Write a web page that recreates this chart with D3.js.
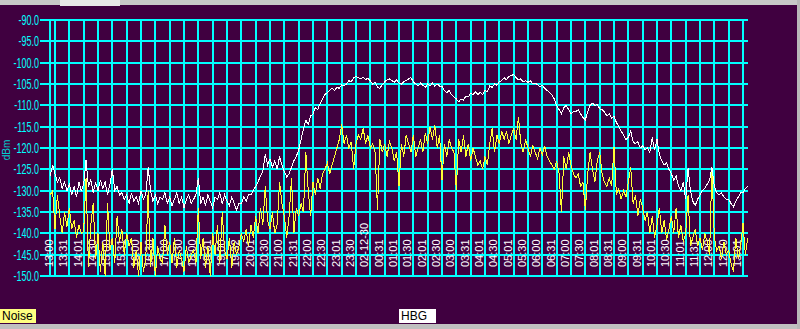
<!DOCTYPE html>
<html>
<head>
<meta charset="utf-8">
<script src="https://cdn.jsdelivr.net/npm/d3@7"></script>
<style>
    html, body { margin: 0; padding: 0; background: #400040; overflow: hidden; }
    svg { display: block; }
</style>
</head>
<body>
<svg id="chart" width="800" height="329"></svg>
<script>
// Tick labels along the time axis (one every 30 min, starting 13:00)
const tickLabels = ["13:00","13:31","14:01","14:30","15:00","15:31","16:00","16:30","17:00","17:30",
    "18:00","18:31","19:00","19:32","20:01","20:30","21:00","21:31","22:00","22:30","23:01","23:30",
    "02-12-30","00:31","01:01","01:30","02:01","02:30","03:00","03:31","04:01","04:30","05:01","05:30",
    "06:00","06:31","07:00","07:30","08:01","08:31","09:00","09:31","10:01","10:30","11:01","11:31",
    "12:00","12:30","13:01"];

const yTicks = [-90, -95, -100, -105, -110, -115, -120, -125, -130, -135, -140, -145, -150];

// Samples: one every 5 minutes, first one at 12:50 (minute -10 relative to 13:00)
const sampleStart = -10;
const sampleStep = 5;

// HBG signal level, dBm
const hbgValues = [
    -126.5, -124, -126, -128, -127, -129.5, -128, -130, -128.5, -131,
    -129, -131.5, -128, -130, -128.5, -122.8, -129, -127.5, -130.5, -128,
    -130, -127.5, -129.5, -128, -131, -128.5, -125, -130, -129, -131,
    -130.5, -132, -131, -133, -130.5, -132.5, -131.5, -133, -130, -132,
    -131, -124.5, -130, -132.5, -131, -133, -131.5, -132, -130.5, -133,
    -131.5, -133.5, -132, -130.5, -133, -131.5, -134, -132, -131, -133,
    -132, -131, -127, -133, -131.5, -133.5, -131, -132.5, -134, -131.5,
    -132, -130.5, -133, -131, -132.5, -133.5, -131.5, -133, -134.5, -133,
    -133, -131.5, -132.5, -131, -131, -130, -129, -128, -126.5, -125.5,
    -121.5, -124, -122.5, -124.5, -123, -125, -122, -124, -125.5, -126.8,
    -126, -124.5, -123, -122, -120.5, -118, -115.5, -113.5, -114.5, -112.5,
    -112, -110.5, -111, -109.5, -108.5, -107.5, -107, -106.5, -106, -106.5,
    -105.8, -106, -105.2, -105.5, -105, -104.2, -104.5, -103.5, -103.2, -103.5,
    -103.8, -103.4, -104, -103.6, -104.3, -105, -104.5, -105.8, -106, -105.2,
    -104.5, -104, -103.8, -104.2, -104.6, -104, -104.8, -105, -104.5, -104.2,
    -103.8, -103.5, -104.5, -105, -105.5, -104.8, -105.3, -105.8, -105, -105.5,
    -104.8, -105.5, -105, -105.5, -105.5, -106.5, -107, -106.5, -107.5, -108,
    -108.5, -109.2, -108.5, -108.8, -107.8, -108, -107.2, -107.5, -106.8, -107.5,
    -107, -107.5, -106.5, -106.8, -105.5, -105.8, -105, -105.3, -104.5, -104.2,
    -103.5, -104, -103.2, -103, -102.8, -103.5, -104, -103.8, -104.5, -104.2,
    -104.6, -104.2, -105, -104.8, -105.2, -105.6, -105.3, -106, -106.5, -107,
    -107.5, -108.5, -110, -111, -112, -110.5, -110, -111, -112, -111.5,
    -111.5, -111, -112, -112.8, -113.4, -111.5, -110, -109.5, -110, -109.8,
    -110.8, -111, -111.5, -112.5, -112, -113, -112.5, -114, -115, -116,
    -117, -118, -117.5, -116, -118.5, -119, -118.5, -120, -119.5, -120.5,
    -120, -121, -117.5, -120.5, -118, -121.5, -123, -124, -123.5, -125,
    -126, -127.5, -126.5, -129, -130, -128, -132, -124.7, -130, -132.5,
    -133.5, -132, -131, -130, -129.5, -128.5, -127.5, -124.5, -129, -130.5,
    -131, -130.5, -131.5, -132, -132, -133, -133.8, -132.5, -131.5, -130.5,
    -130.5, -129.5, -129
];

// Noise level, dBm
const noiseValues = [
    -131, -130, -139, -131, -136, -140, -135, -138.5, -134, -139,
    -137, -141, -138, -140, -139.5, -127, -148, -138, -133, -146,
    -140, -149, -142, -150, -133, -144, -141, -147, -136, -142,
    -139, -145, -140, -143, -141, -148, -144, -150, -142, -149,
    -146, -130, -148, -141, -150, -143, -146, -147, -138, -145,
    -142, -147, -141, -148, -144, -146, -149, -143, -147, -145,
    -144, -147, -134, -146, -141, -148, -143, -150, -140, -145,
    -138, -147, -135, -144, -146, -141, -148, -142, -145, -143,
    -140, -142, -139, -143, -138, -141, -136, -140, -134, -138,
    -129, -137, -139, -135, -140, -138, -128, -133, -136, -141,
    -136, -127, -140, -134, -136, -133, -135, -121, -130, -136,
    -128, -131, -127, -129.5, -126, -125, -123.5, -126, -124, -122,
    -120, -118, -114.5, -119, -117, -120, -118.5, -125, -119, -117,
    -118, -115.3, -119, -117, -120, -119, -121, -134.5, -118, -121,
    -119, -122, -118.5, -120, -123, -121, -129, -119, -122, -117,
    -119, -121, -117, -122, -120, -118, -121, -116.5, -119, -115,
    -118, -114.6, -120, -117, -127.5, -119, -122, -118, -120, -121,
    -129.8, -118, -121, -117, -122, -119, -123, -120, -122, -124,
    -123, -125, -122, -124, -119, -115.3, -121, -117, -119, -116,
    -118, -116, -119, -117, -115.5, -118, -112.7, -119, -121, -118,
    -120, -122, -119.5, -121, -122.5, -120, -121.5, -119.5, -122, -123,
    -124, -125, -123, -126, -135, -122, -125, -121, -124, -126,
    -127, -126, -129, -128, -134.5, -126, -121, -125, -128, -123,
    -121, -126, -128, -129, -127, -129, -119.8, -131, -129.5, -132,
    -130, -131.5, -128, -124.5, -133, -131, -136, -132, -134, -137,
    -135, -140, -136, -141, -138, -134, -140, -137, -141.5, -139,
    -136, -140, -134, -141, -138, -142, -140, -131, -143, -141,
    -139, -143, -141, -144, -140, -142, -145, -124.5, -141, -144,
    -143, -146, -142, -145, -144, -147, -149, -141, -146, -143,
    -137.6, -145, -141
];

const seriesNames = ['Noise', 'HBG'];
const seriesColors = { 'Noise': '#ffff33', 'HBG': '#ffffff' };

function drawChart() {
    const svg = d3.select('#chart');
    const width = 800, height = 329;
    const plot = { left: 50, right: 748, top: 20, bottom: 276 };

    // background
    svg.append('rect').attr('width', width).attr('height', height).attr('fill', '#400040');

    // window chrome bits (top and bottom bars, right edge)
    svg.append('rect').attr('x', 0).attr('y', 0).attr('width', width).attr('height', 5).attr('fill', '#c8c8c8');
    svg.append('rect').attr('x', 60).attr('y', 0).attr('width', 60).attr('height', 6).attr('fill', '#e8e8e8');
    svg.append('rect').attr('x', 0).attr('y', 324).attr('width', width).attr('height', 5).attr('fill', '#c0c0c0');
    svg.append('rect').attr('x', 797).attr('y', 0).attr('width', 3).attr('height', height).attr('fill', '#b8b8b8');

    // Scales: x in minutes after 13:00, tick line k sits at 30*k minutes
    const x = d3.scaleLinear()
        .domain([0, 1440])
        .range([55, 743]);

    const y = d3.scaleLinear()
        .domain([-150, -90])
        .range([plot.bottom, plot.top]);

    const grid = svg.append('g')
        .attr('stroke', '#00ffff')
        .attr('stroke-width', 2)
        .attr('shape-rendering', 'crispEdges');

    // horizontal grid lines (they stick out to the left as ticks)
    grid.selectAll('.hline')
        .data(yTicks)
        .enter()
        .append('line')
        .attr('x1', 40)
        .attr('x2', plot.right)
        .attr('y1', d => Math.round(y(d)))
        .attr('y2', d => Math.round(y(d)));

    // left border and the vertical time lines
    grid.append('line')
        .attr('x1', plot.left).attr('x2', plot.left)
        .attr('y1', plot.top).attr('y2', plot.bottom);

    grid.selectAll('.vline')
        .data(tickLabels)
        .enter()
        .append('line')
        .attr('x1', (d, i) => Math.round(x(i * 30)))
        .attr('x2', (d, i) => Math.round(x(i * 30)))
        .attr('y1', plot.top)
        .attr('y2', plot.bottom);

    // y axis labels, narrow font
    svg.selectAll('.ylabel')
        .data(yTicks)
        .enter()
        .append('text')
        .attr('transform', d => `translate(39,${y(d) + 5}) scale(0.6,1)`)
        .attr('text-anchor', 'end')
        .style('font-family', 'Liberation Sans, Arial, sans-serif')
        .style('font-size', '15px')
        .style('fill', '#00ffff')
        .text(d => d.toFixed(1));

    svg.append('text')
        .attr('transform', 'translate(10,150) rotate(-90)')
        .attr('text-anchor', 'middle')
        .style('font-family', 'Liberation Sans, Arial, sans-serif')
        .style('font-size', '10px')
        .style('fill', '#00d0d0')
        .text('dBm');

    // x axis labels, rotated, just left of each line
    svg.selectAll('.xlabel')
        .data(tickLabels)
        .enter()
        .append('text')
        .attr('transform', (d, i) => `translate(${Math.round(x(i * 30)) - 2},267) rotate(-90)`)
        .attr('text-anchor', 'start')
        .style('font-family', 'Liberation Sans, Arial, sans-serif')
        .style('font-size', '11px')
        .style('fill', '#ffffff')
        .text(d => d);

    // series lines
    svg.append('clipPath').attr('id', 'plotclip')
        .append('rect')
        .attr('x', plot.left).attr('y', plot.top)
        .attr('width', plot.right - plot.left).attr('height', plot.bottom - plot.top + 1);

    const line = d3.line()
        .x((d, i) => x(sampleStart + i * sampleStep))
        .y(d => y(d));

    const seriesData = { 'Noise': noiseValues, 'HBG': hbgValues };
    seriesNames.forEach(name => {
        svg.append('path')
            .datum(seriesData[name])
            .attr('clip-path', 'url(#plotclip)')
            .attr('fill', 'none')
            .attr('stroke', seriesColors[name])
            .attr('stroke-width', 1)
            .attr('shape-rendering', 'crispEdges')
            .attr('d', line);
    });

    // legend boxes along the bottom
    const legend = [
        { name: 'Noise', x: 0, w: 36, fill: '#ffff80' },
        { name: 'HBG', x: 399, w: 37, fill: '#ffffff' }
    ];
    const lg = svg.selectAll('.legend')
        .data(legend)
        .enter()
        .append('g');
    lg.append('rect')
        .attr('x', d => d.x).attr('y', 309)
        .attr('width', d => d.w).attr('height', 14)
        .attr('fill', d => d.fill);
    lg.append('text')
        .attr('x', d => d.x + 2).attr('y', 320)
        .style('font-family', 'Liberation Sans, Arial, sans-serif')
        .style('font-size', '12px')
        .style('fill', '#000000')
        .text(d => d.name);
}

drawChart();
</script>
</body>
</html>
